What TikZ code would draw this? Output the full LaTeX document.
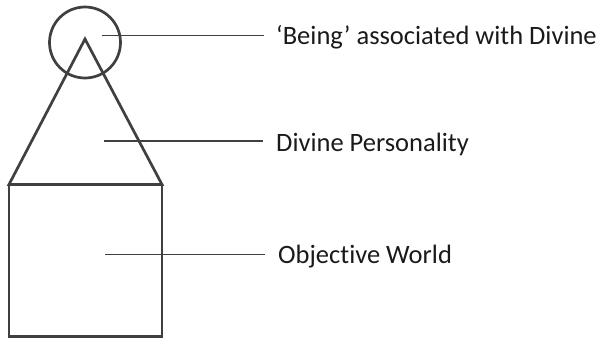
\documentclass[tikz,border=0pt]{standalone}
\usepackage{fontspec}
\setmainfont[Ligatures=NoCommon]{Carlito}
\definecolor{shape}{HTML}{404040}
\definecolor{txt}{HTML}{1A1A1A}
\begin{document}
\begin{tikzpicture}[x=1pt,y=-1pt,
  outline/.style={draw=shape,line width=2.7pt,line join=miter},
  leader/.style={draw=shape,line width=1.3pt},
  lbl/.style={anchor=base west,inner sep=0pt,text=txt,font=\fontsize{26.5}{30}\selectfont}]
\useasboundingbox (0,0) rectangle (600,340);
% shapes
\coordinate (apex) at (85,39);
\coordinate (bl) at (9,184.5);
\coordinate (br) at (162,184.5);
\coordinate (rb) at (162,336.5);
\draw[outline] (apex) -- (bl) -- (br) -- cycle;
\draw[outline] (bl) rectangle (rb);
\node[outline,circle,minimum size=71pt,inner sep=0pt] (halo) at (85,42.5) {};
% labels
\node[lbl] (being) at (276,45) {‘Being’ associated with Divine};
\node[lbl] (pers) at (276,151.5) {Divine Personality};
\node[lbl] (world) at (278,263) {Objective World};
% leader ends
\coordinate (s1) at (101.5,35.7);
\coordinate (e1) at (263.5,35.7);
\coordinate (s2) at (104,141);
\coordinate (e2) at (263,141);
\coordinate (s3) at (105,254.3);
\coordinate (e3) at (265,254.3);
\draw[leader] (s1) -- (e1);
\draw[leader] (s2) -- (e2);
\draw[leader] (s3) -- (e3);
\end{tikzpicture}
\end{document}
